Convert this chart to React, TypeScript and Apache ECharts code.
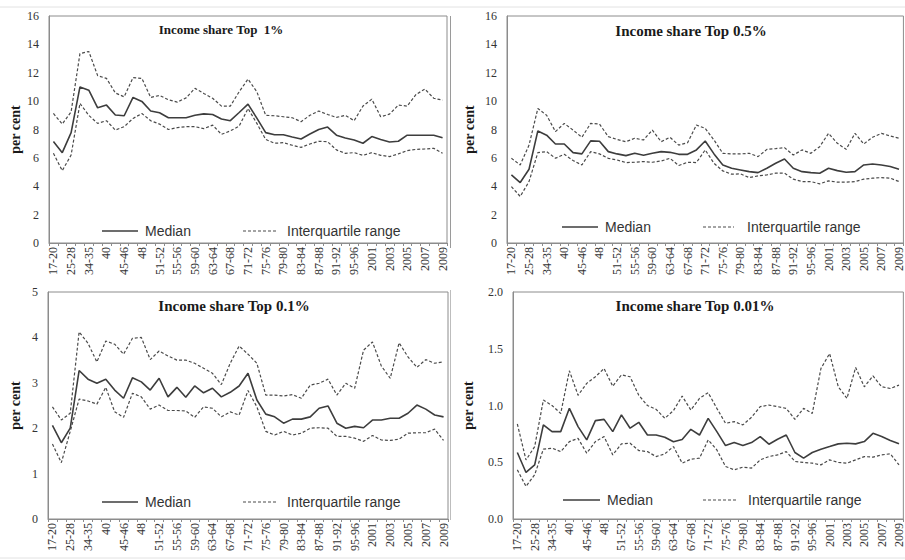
import React, { useEffect, useRef } from 'react';
import * as echarts from 'echarts';

const categories = [
  '17-20', '21-24', '25-28', '29-33', '34-35', '36-39', '40', '41-44', '45-46', '47', '48',
  '49-50', '51-52', '53-54', '55-56', '57-58', '59-60', '61-62', '63-64', '65-66', '67-68',
  '69-70', '71-72', '73-74', '75-76', '77-78', '79-80', '81-82', '83-84', '85-86', '87-88',
  '89-90', '91-92', '93-94', '95-96', '97-00', '2001', '2002', '2003', '2004', '2005',
  '2006', '2007', '2008', '2009',
];

// Top 1%
const top1Median = [7.15, 6.37, 7.78, 11.0, 10.77, 9.53, 9.72, 9.02, 8.97, 10.26, 9.98, 9.3, 9.18, 8.83, 8.83, 8.83, 9.0, 9.1, 9.06, 8.74, 8.62, 9.2, 9.79, 8.8, 7.78, 7.63, 7.63, 7.47, 7.33, 7.68, 8.0, 8.17, 7.6, 7.4, 7.26, 7.03, 7.5, 7.3, 7.12, 7.17, 7.6, 7.6, 7.6, 7.6, 7.42];
const top1Upper = [9.13, 8.38, 9.25, 13.35, 13.5, 11.8, 11.6, 10.58, 10.3, 11.66, 11.6, 10.26, 10.4, 10.1, 9.93, 10.23, 10.9, 10.54, 10.2, 9.65, 9.65, 10.66, 11.55, 10.66, 9.0, 8.97, 8.9, 8.83, 8.55, 9.0, 9.3, 9.06, 8.85, 9.0, 8.62, 9.65, 10.14, 8.9, 9.08, 9.72, 9.65, 10.47, 10.85, 10.2, 10.07];
const top1Lower = [6.32, 5.1, 6.2, 9.84, 9.0, 8.43, 8.62, 7.96, 8.2, 8.78, 9.13, 8.62, 8.38, 8.0, 8.13, 8.2, 8.2, 8.06, 8.31, 7.66, 7.9, 8.24, 9.48, 8.43, 7.3, 7.03, 7.07, 6.89, 6.74, 6.98, 7.17, 7.14, 6.56, 6.32, 6.37, 6.18, 6.37, 6.18, 6.09, 6.28, 6.51, 6.6, 6.63, 6.67, 6.32];

// Top 0.5%
const top05Median = [4.8, 4.26, 5.2, 7.9, 7.6, 6.98, 6.98, 6.37, 6.28, 7.2, 7.17, 6.44, 6.28, 6.16, 6.32, 6.18, 6.32, 6.44, 6.39, 6.25, 6.25, 6.56, 7.19, 6.28, 5.5, 5.27, 5.15, 5.03, 4.96, 5.27, 5.62, 5.92, 5.27, 5.03, 4.96, 4.92, 5.27, 5.1, 4.99, 5.03, 5.5, 5.57, 5.5, 5.39, 5.2];
const top05Upper = [5.97, 5.5, 6.9, 9.48, 9.0, 7.85, 8.43, 7.96, 7.45, 8.43, 8.38, 7.5, 7.3, 7.14, 7.38, 7.26, 7.96, 7.14, 7.45, 6.9, 7.07, 8.31, 8.08, 7.26, 6.32, 6.28, 6.28, 6.32, 6.09, 6.6, 6.65, 6.72, 6.2, 6.56, 6.32, 6.79, 7.73, 7.03, 6.6, 7.73, 6.98, 7.45, 7.73, 7.54, 7.38];
const top05Lower = [3.98, 3.28, 4.33, 6.37, 6.44, 5.97, 6.25, 5.81, 5.5, 6.44, 6.28, 5.97, 5.85, 5.67, 5.69, 5.74, 5.69, 5.78, 5.97, 5.46, 5.69, 5.67, 6.56, 5.62, 5.08, 4.85, 4.87, 4.61, 4.73, 4.8, 4.92, 4.92, 4.5, 4.33, 4.33, 4.17, 4.38, 4.29, 4.29, 4.33, 4.5, 4.57, 4.61, 4.57, 4.33];

// Top 0.1%
const top01Median = [2.06, 1.68, 2.0, 3.27, 3.08, 2.99, 3.08, 2.84, 2.66, 3.11, 3.02, 2.84, 3.1, 2.69, 2.9, 2.68, 2.93, 2.78, 2.88, 2.69, 2.79, 2.93, 3.21, 2.62, 2.31, 2.25, 2.11, 2.2, 2.2, 2.25, 2.44, 2.49, 2.11, 2.0, 2.04, 2.01, 2.18, 2.18, 2.22, 2.22, 2.33, 2.51, 2.42, 2.29, 2.25];
const top01Upper = [2.47, 2.18, 2.33, 4.12, 3.87, 3.46, 3.92, 3.85, 3.63, 3.98, 4.0, 3.51, 3.7, 3.59, 3.5, 3.5, 3.43, 3.32, 3.21, 2.96, 3.43, 3.81, 3.63, 3.43, 2.73, 2.73, 2.71, 2.74, 2.66, 2.95, 2.99, 3.08, 2.73, 2.99, 2.88, 3.72, 3.9, 3.37, 3.1, 3.88, 3.57, 3.34, 3.51, 3.43, 3.46];
const top01Lower = [1.65, 1.24, 1.93, 2.64, 2.6, 2.53, 2.9, 2.36, 2.24, 2.77, 2.69, 2.42, 2.51, 2.39, 2.39, 2.38, 2.24, 2.47, 2.44, 2.25, 2.36, 2.29, 2.83, 2.47, 1.93, 1.85, 1.93, 1.85, 1.89, 2.0, 2.01, 2.0, 1.82, 1.82, 1.78, 1.71, 1.84, 1.74, 1.73, 1.76, 1.89, 1.9, 1.9, 1.98, 1.73];

// Top 0.01%
const top001Median = [0.586, 0.41, 0.477, 0.83, 0.77, 0.77, 0.975, 0.814, 0.697, 0.867, 0.878, 0.77, 0.917, 0.8, 0.852, 0.74, 0.74, 0.72, 0.68, 0.7, 0.79, 0.74, 0.887, 0.77, 0.647, 0.673, 0.647, 0.673, 0.726, 0.659, 0.703, 0.74, 0.586, 0.536, 0.586, 0.615, 0.638, 0.662, 0.668, 0.662, 0.682, 0.755, 0.726, 0.691, 0.662];
const top001Upper = [0.837, 0.52, 0.638, 1.048, 1.0, 0.93, 1.306, 1.09, 1.195, 1.253, 1.326, 1.17, 1.27, 1.253, 1.09, 1.0, 0.966, 0.887, 0.955, 1.083, 0.96, 1.063, 1.113, 0.975, 0.843, 0.858, 0.829, 0.896, 0.99, 1.004, 0.99, 0.975, 0.878, 0.975, 0.93, 1.326, 1.458, 1.165, 1.063, 1.335, 1.165, 1.26, 1.165, 1.15, 1.18];
const top001Lower = [0.433, 0.287, 0.39, 0.615, 0.624, 0.594, 0.682, 0.71, 0.58, 0.682, 0.726, 0.565, 0.662, 0.668, 0.603, 0.594, 0.55, 0.574, 0.638, 0.492, 0.527, 0.536, 0.697, 0.609, 0.463, 0.433, 0.457, 0.448, 0.521, 0.55, 0.565, 0.594, 0.507, 0.498, 0.492, 0.477, 0.521, 0.498, 0.492, 0.521, 0.55, 0.545, 0.565, 0.574, 0.477];

const panelTitles = ['Income share Top  1%', 'Income share Top 0.5%', 'Income share Top 0.1%', 'Income share Top 0.01%'];
const legendNames = ['Median', 'Interquartile range'];
const yMax = [16, 16, 5, 2];
const yStep = [2, 2, 1, 0.5];
const yDecimals = [0, 0, 0, 1];
const medians = [top1Median, top05Median, top01Median, top001Median];
const uppers = [top1Upper, top05Upper, top01Upper, top001Upper];
const lowers = [top1Lower, top05Lower, top01Lower, top001Lower];

const grids = [
  { left: 49, top: 16, width: 398, height: 227 },
  { left: 507, top: 16, width: 397, height: 227 },
  { left: 48, top: 292, width: 400, height: 227 },
  { left: 513, top: 292, width: 391, height: 227 },
];
const nameGaps = [27, 31, 26, 38];
const titlePos = [
  { x: 221, y: 23, size: 13 },
  { x: 691, y: 23, size: 15 },
  { x: 234, y: 298, size: 15 },
  { x: 695, y: 298, size: 15 },
];
// legend layout: [medLineX1, medLineX2, medTextX, iqrLineX1, iqrLineX2, iqrTextX, y]
const legendLayout = [
  [102, 138, 145, 243, 277, 287, 231],
  [562, 598, 605, 703, 734, 747, 227],
  [102, 138, 145, 243, 277, 287, 502],
  [563, 600, 607, 703, 737, 748, 500],
];

const SERIF = '"Liberation Serif", "Times New Roman", serif';
const SANS = '"Liberation Sans", Arial, sans-serif';
const AXIS = '#8c8c8c';
const LINE = '#3d3d3d';
const DASH = '#4a4a4a';

export default function App() {
  const ref = useRef<HTMLDivElement>(null);
  useEffect(() => {
    if (!ref.current) return;
    const chart = echarts.init(ref.current, undefined, { renderer: 'svg' });
    const series: any[] = [];
    for (let i = 0; i < 4; i++) {
      series.push({
        type: 'line', name: legendNames[0], xAxisIndex: i, yAxisIndex: i, data: medians[i],
        symbol: 'none', lineStyle: { color: LINE, width: 1.6 }, itemStyle: { color: LINE },
      });
      series.push({
        type: 'line', name: legendNames[1], xAxisIndex: i, yAxisIndex: i, data: uppers[i],
        symbol: 'none', lineStyle: { color: DASH, width: 1.2, type: [3, 2] }, itemStyle: { color: DASH },
      });
      series.push({
        type: 'line', name: legendNames[1], xAxisIndex: i, yAxisIndex: i, data: lowers[i],
        symbol: 'none', lineStyle: { color: DASH, width: 1.2, type: [3, 2] }, itemStyle: { color: DASH },
      });
    }
    const legendGraphics: any[] = [];
    legendLayout.forEach((l) => {
      const [m1, m2, mt, q1, q2, qt, y] = l;
      legendGraphics.push({ type: 'line', shape: { x1: m1, y1: y, x2: m2, y2: y }, style: { stroke: LINE, lineWidth: 1.6 } });
      legendGraphics.push({
        type: 'text', x: mt, y,
        style: { text: legendNames[0], fill: '#333', font: `14px ${SANS}`, align: 'left', verticalAlign: 'middle' },
      });
      legendGraphics.push({ type: 'line', shape: { x1: q1, y1: y, x2: q2, y2: y }, style: { stroke: DASH, lineWidth: 1.2, lineDash: [3, 2] } });
      legendGraphics.push({
        type: 'text', x: qt, y,
        style: { text: legendNames[1], fill: '#333', font: `14px ${SANS}`, align: 'left', verticalAlign: 'middle' },
      });
    });
    const option: any = {
      animation: false,
      backgroundColor: '#ffffff',
      grid: grids.map((g) => ({ ...g, show: true, borderColor: AXIS, borderWidth: 1, backgroundColor: 'transparent' })),
      title: titlePos.map((t, i) => ({
        text: panelTitles[i], left: t.x, top: t.y, textAlign: 'center', padding: 0,
        textStyle: { fontFamily: SERIF, fontWeight: 'bold', fontSize: t.size, color: '#1a1a1a' },
      })),
      xAxis: grids.map((_, i) => ({
        type: 'category', gridIndex: i, data: categories, boundaryGap: true,
        axisLine: { show: true, lineStyle: { color: AXIS } },
        axisTick: { show: true, interval: 0, length: 3, lineStyle: { color: AXIS } },
        axisLabel: { interval: 1, rotate: 90, margin: 4, fontFamily: SERIF, fontSize: 12, color: '#333' },
        splitLine: { show: false },
      })),
      yAxis: grids.map((_, i) => ({
        type: 'value', gridIndex: i, min: 0, max: yMax[i], interval: yStep[i],
        splitLine: { show: false },
        axisLine: { show: true, lineStyle: { color: AXIS } },
        axisTick: { show: false },
        axisLabel: {
          margin: 10, fontFamily: SERIF, fontSize: 12, color: '#333',
          formatter: (v: number) => v.toFixed(yDecimals[i]),
        },
        name: 'per cent', nameLocation: 'middle', nameGap: nameGaps[i],
        nameTextStyle: { fontFamily: SERIF, fontWeight: 'bold', fontSize: 14, color: '#1a1a1a' },
      })),
      graphic: [
        { type: 'line', shape: { x1: 0, y1: 7, x2: 905, y2: 7 }, style: { stroke: '#e2e2e2', lineWidth: 1 } },
        { type: 'line', shape: { x1: 450.5, y1: 16, x2: 450.5, y2: 248 }, style: { stroke: '#9a9a9a', lineWidth: 1 } },
        { type: 'line', shape: { x1: 450.5, y1: 290, x2: 450.5, y2: 520 }, style: { stroke: '#bdbdbd', lineWidth: 1 } },
        { type: 'line', shape: { x1: 0, y1: 558, x2: 905, y2: 558 }, style: { stroke: '#e2e2e2', lineWidth: 1 } },
        ...legendGraphics,
      ],
      series,
    };
    chart.setOption(option);
    return () => chart.dispose();
  }, []);
  return <div ref={ref} style={{ position: 'fixed', left: 0, top: 0, width: 905, height: 560, background: '#fff' }} />;
}
